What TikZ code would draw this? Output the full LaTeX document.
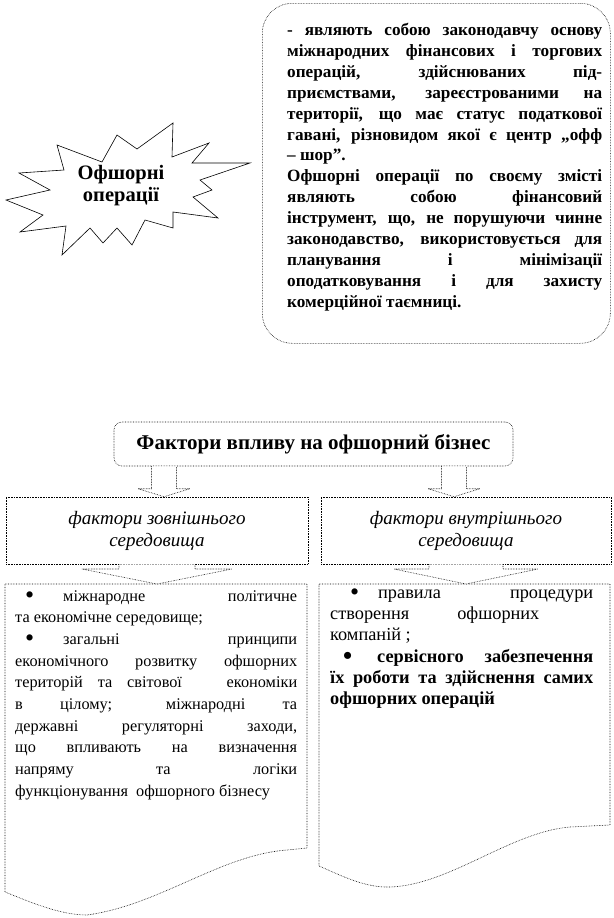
\documentclass[tikz,border=0pt]{standalone}
\usepackage{fontspec}
\setmainfont{Liberation Serif}
\usetikzlibrary{calc}

\begin{document}
\begin{tikzpicture}[
    x=1pt, y=1pt,
    box/.style={draw, densely dotted, line width=0.6pt},
    burst/.style={draw, line width=0.6pt},
    barrow/.style={draw, densely dotted, line width=0.6pt, fill=white},
    txt/.style={anchor=north west, inner sep=0pt, align=justify,
                execute at begin node={\parindent=0pt\parskip=0pt},
                font=\fontsize{16.3}{21.7}\selectfont},
    hd/.style={inner sep=0pt, align=center, font=\bfseries\fontsize{21}{22}\selectfont},
    sub/.style={box, minimum height=67pt, align=center, font=\itshape\fontsize{19}{22}\selectfont},
  ]
  \useasboundingbox (0,0) rectangle (613,-918);
  \def\lbul{\raisebox{-2.5pt}{\fontsize{26}{20}\selectfont\textbullet}}
  % one printed line each: justified (jl) or left (rl)
  \def\jl#1{\makebox[\hsize][s]{#1}\par}
  \def\rl#1{\makebox[\hsize][l]{#1}\par}

  % starburst and definition box
  \draw[burst] (57,-145) -- (102,-162) -- (117,-135) -- (137,-149) -- (173,-123) -- (172,-157)
    -- (209,-143) -- (192,-163) -- (250,-163) -- (200,-180) -- (212,-190) -- (193,-197)
    -- (218,-218) -- (173,-212) -- (173,-228) -- (145,-220) -- (132,-245) -- (117,-228)
    -- (103,-243) -- (90,-228) -- (62,-255) -- (66,-226) -- (20,-232) -- (43,-215)
    -- (6,-200) -- (50,-190) -- (19,-173) -- (64,-170) -- cycle;
  \node[hd, font=\bfseries\fontsize{20.5}{22}\selectfont] (offops) at (121,-186) {Офшорні\\операції};

  \node[box, rounded corners=30pt, anchor=north west, minimum width=348pt, minimum height=340pt] (defbox) at (262,-3) {};
  \node[txt, text width=315pt, font=\bfseries\fontsize{17.2}{20.9}\selectfont] (deftext) at (287,-23) {%
    \jl{- являють собою законодавчу основу}
    \jl{міжнародних фінансових і торгових}
    \jl{операцій, здійснюваних під-}
    \jl{приємствами, зареєстрованими на}
    \jl{території, що має статус податкової}
    \jl{гавані, різновидом якої є центр „офф}
    \rl{– шор”.}
    \jl{Офшорні операції по своєму змісті}
    \jl{являють собою фінансовий}
    \jl{інструмент, що, не порушуючи чинне}
    \jl{законодавство, використовується для}
    \jl{планування і мінімізації}
    \jl{оподатковування і для захисту}
    \rl{комерційної таємниці.}};

  % factors
  \node[box, hd, rounded corners=8pt, minimum width=399pt, minimum height=44pt] (factors) at (313.5,-444) {Фактори впливу на офшорний бізнес};
  \node[sub, minimum width=302pt] (outer) at (157,-530.5) {фактори зовнішнього\\середовища};
  \node[sub, minimum width=290pt] (inner) at (466,-530.5) {фактори внутрішнього\\середовища};

  % lists
  \draw[box] (5,-584) -- (307,-584) -- (307,-848) -- (287,-850)
    .. controls (220,-855) and (160,-905) .. (87,-915)
    .. controls (60,-915) and (30,-902) .. (5,-892) -- cycle;
  \coordinate (outerlist) at (157,-584);
  \draw[box] (319,-584) -- (610,-584) -- (610,-825) -- (570,-827)
    .. controls (510,-832) and (450,-885) .. (390,-887)
    .. controls (365,-888) and (340,-875) .. (319,-866) -- cycle;
  \coordinate (innerlist) at (466,-584);

  \node[txt, text width=282pt] (outertext) at (15,-590) {%
    \jl{\hspace*{10pt}\makebox[38pt][l]{\lbul}міжнародне політичне}
    \rl{та економічне середовище;}
    \jl{\hspace*{10pt}\makebox[38pt][l]{\lbul}загальні принципи}
    \jl{економічного розвитку офшорних}
    \jl{територій та світової\ \ \ економіки}
    \jl{в цілому; міжнародні та}
    \jl{державні регуляторні заходи,}
    \jl{що впливають на визначення}
    \jl{напряму та логіки}
    \rl{функціонування\ \ офшорного бізнесу}};
  \node[txt, text width=263pt, font=\fontsize{18.3}{21.2}\selectfont] (innertext) at (330,-589) {%
    \jl{\hspace*{20pt}\makebox[28pt][l]{\lbul}правила процедури}
    \rl{створення\hspace{48pt}офшорних}
    \rl{компаній ;}
    \bfseries
    \jl{\hspace*{13pt}\makebox[34pt][l]{\lbul}сервісного забезпечення}
    \jl{їх роботи та здійснення самих}
    \rl{офшорних операцій}};

  % block arrows
  \foreach \src/\dst/\cx/\sw/\hw/\hl in {factors.south/outer.north/164/12.5/26/8,
      factors.south/inner.north/454/12.5/26/8,
      outer.south/outerlist/157/38/75/15,
      inner.south/innerlist/466/37/72/15}
    \draw[barrow] let \p1=(\src), \p2=(\dst) in
      (\cx-\sw,\y1) -- (\cx-\sw,\y2+\hl) -- (\cx-\hw,\y2+\hl) -- (\cx,\y2)
      -- (\cx+\hw,\y2+\hl) -- (\cx+\sw,\y2+\hl) -- (\cx+\sw,\y1);
\end{tikzpicture}
\end{document}
